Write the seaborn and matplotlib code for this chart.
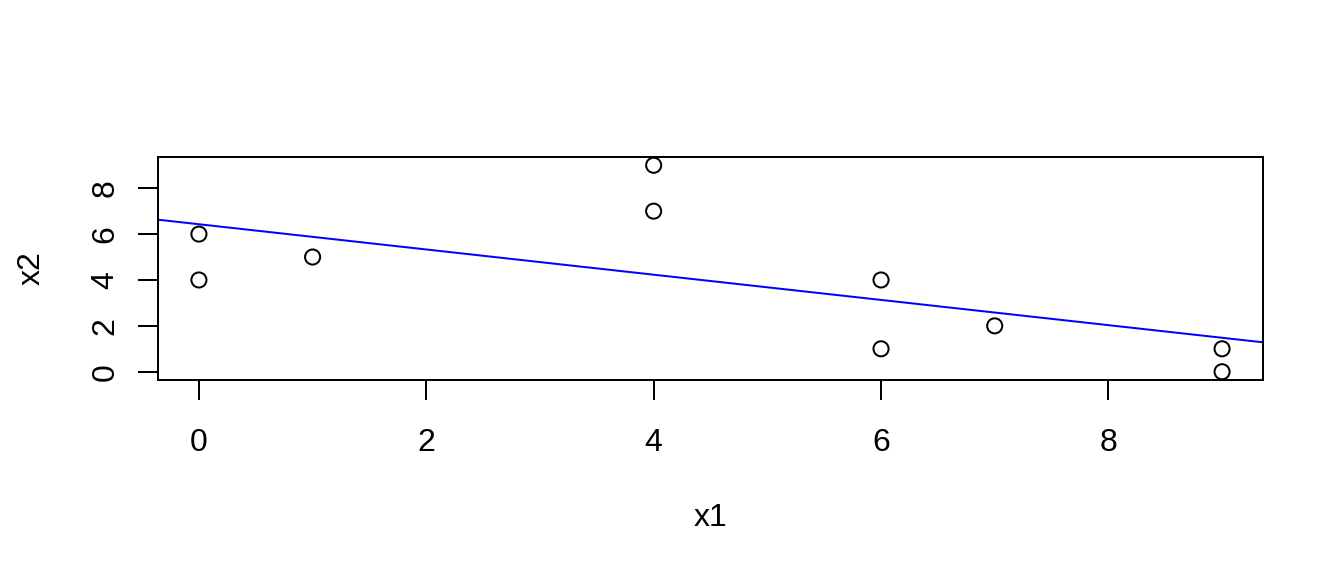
import numpy as np
import pandas as pd
import matplotlib
matplotlib.use("Agg")
import matplotlib.pyplot as plt
import seaborn as sns

x1 = [0, 0, 1, 4, 4, 6, 6, 7, 9, 9]
x2 = [6, 4, 5, 9, 7, 4, 1, 2, 1, 0]
xticks = [0, 2, 4, 6, 8]
yticks = [0, 2, 4, 6, 8]

df = pd.DataFrame({"x1": x1, "x2": x2})

sns.set_theme(style="ticks")
plt.rcParams["font.family"] = ["Liberation Sans", "DejaVu Sans"]
plt.rcParams["font.size"] = 12

fig = plt.figure(figsize=(7, 3), dpi=192)
W, H = 1344, 576
ax = fig.add_axes([158 / W, 1 - 380 / H, (1263 - 158) / W, (380 - 157) / H])

sns.scatterplot(data=df, x="x1", y="x2", ax=ax, marker="o", s=32,
                facecolor="none", edgecolor="black", linewidth=0.75, zorder=3)

slope, intercept = np.polyfit(df["x1"], df["x2"], 1)
ax.axline((0, intercept), slope=slope, color="#0000FF", lw=0.75, zorder=2)

rng_x = max(x1) - min(x1)
rng_y = max(x2) - min(x2)
ax.set_xlim(min(x1) - 0.04 * rng_x, max(x1) + 0.04 * rng_x)
ax.set_ylim(min(x2) - 0.04 * rng_y, max(x2) + 0.04 * rng_y)
ax.set_xticks(xticks)
ax.set_yticks(yticks)
ax.tick_params(axis="both", direction="out", length=7.5, width=0.75,
               color="black", labelsize=12, labelcolor="black")
ax.tick_params(axis="x", pad=10.5)
ax.tick_params(axis="y", pad=6.5)
for lab in ax.get_yticklabels():
    lab.set_rotation(90)
    lab.set_va("center")
for sp in ax.spines.values():
    sp.set_visible(True)
    sp.set_color("black")
    sp.set_linewidth(0.75)

ax.set_xlabel("x1", fontsize=12, color="black", labelpad=17)
ax.set_ylabel("x2", fontsize=12, color="black", labelpad=16.5)

fig.savefig("out.png", dpi=192, facecolor="white")
